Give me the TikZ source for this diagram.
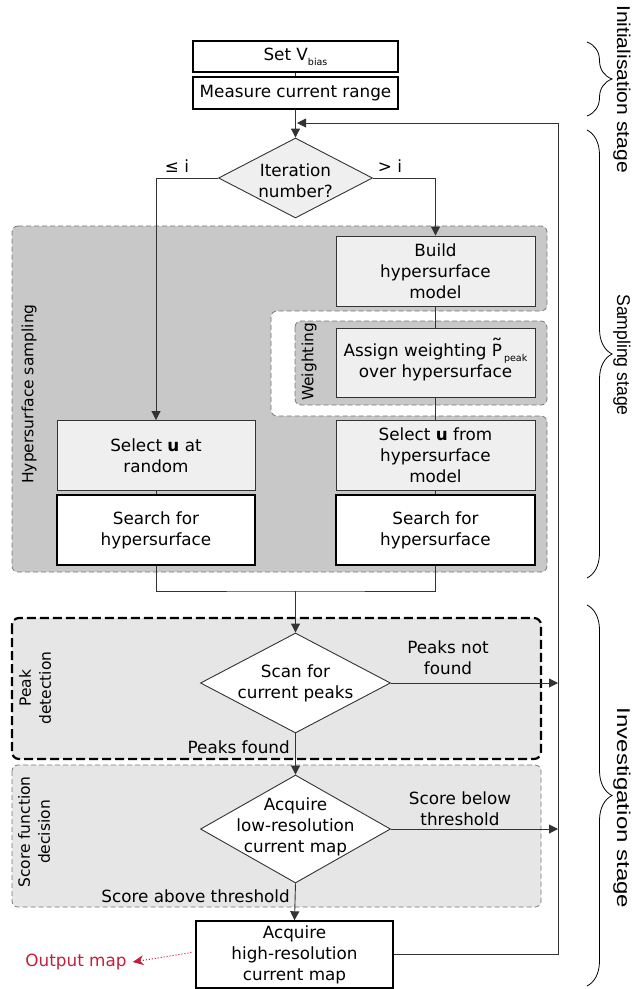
\documentclass[tikz,border=0pt]{standalone}
\usepackage{fontspec}
\setmainfont{DejaVu Sans}
\newfontfamily\arialf{Liberation Sans}
\usepackage{graphicx}
\usetikzlibrary{arrows.meta,shapes.geometric,decorations.pathreplacing}
\definecolor{hgray}{HTML}{C8C8C8}
\definecolor{lboxc}{HTML}{EFEFEF}
\definecolor{rgray}{HTML}{E6E6E6}
\definecolor{dgray}{HTML}{333333}
\definecolor{dashg}{HTML}{777777}
\definecolor{outred}{HTML}{C41E3A}
\newcommand\Ptil{\leavevmode\hbox{\ooalign{P\cr\hidewidth\raisebox{0.22em}{\scalebox{1.4}[1.1]{\char"02DC}}\hidewidth\cr}}}
\newcommand\subsm[1]{\raisebox{-0.3em}{\fontsize{9.5}{9.5}\selectfont #1}}
\begin{document}
\begin{tikzpicture}[x=1pt,y=-1pt,
  font=\fontsize{16.8}{21}\selectfont,
  wbox/.style={draw=black,line width=1.4pt,fill=white,inner sep=0pt,align=center},
  sbox/.style={draw=black,line width=1.7pt,fill=white,inner sep=0pt,align=center,minimum width=199pt,minimum height=70pt},
  gbox/.style={draw=dgray,line width=0.9pt,fill=lboxc,inner sep=0pt,align=center,minimum width=199pt,minimum height=70pt},
  decis/.style={diamond,draw=dgray,line width=0.9pt,inner sep=0pt},
  conn/.style={draw=dgray,line width=0.9pt},
  arr/.style={conn,-{Triangle[length=9pt,width=9pt]}},
  thinreg/.style={draw=dashg,line width=0.8pt,dash pattern=on 5pt off 3pt,rounded corners=6pt},
  thickreg/.style={draw=black,line width=2.2pt,dash pattern=on 9pt off 4pt,rounded corners=7pt},
  reglab/.style={rotate=90,align=center,font=\fontsize{15.5}{20}\selectfont},
  stagelab/.style={rotate=-90,font=\arialf\fontsize{18.5}{18.5}\selectfont},
  stagebrace/.style={draw=black,line width=0.8pt,decorate,decoration={brace,amplitude=25pt}},
  lab/.style={inner sep=0pt,align=center}]
\useasboundingbox (0,0) rectangle (634,989);

% ---------- regions ----------
\path[thinreg,fill=hgray] (12,226) -- (547,226) -- (547,311) -- (271,311) -- (271,416) -- (547,416) -- (547,572) -- (12,572) -- cycle;
\path[thinreg,fill=hgray] (295,321) rectangle (547,405);
\path[thickreg,fill=rgray] (12,618) rectangle (541,759);
\path[thinreg,fill=rgray] (12,765) rectangle (541,907);

\node[reglab] (lhs) at (29,394) {Hypersurface sampling};
\node[reglab] (lw) at (309,362) {Weighting};
\node[reglab] (lpd) at (35,688) {Peak\\detection};
\node[reglab] (lsf) at (34,832) {Score function\\decision};

% ---------- nodes ----------
\node[wbox,minimum width=205pt,minimum height=31pt] (setv) at (295.5,56.5) {Set V\subsm{bias}};
\node[wbox,minimum width=205pt,minimum height=32pt] (meas) at (295.5,93) {Measure current range};

\node[decis,fill=lboxc,minimum width=154pt,minimum height=80pt] (it) at (295.5,178) {};
\node[lab] (itt) at (295.5,181) {Iteration\\number?};

\node[gbox] (bm) at (435.5,271) {Build\\hypersurface\\model};
\node[gbox,minimum height=69pt] (aw) at (435.5,362.5) {Assign weighting \Ptil\kern2pt\subsm{peak}\\over hypersurface};
\node[gbox] (su) at (435.5,455.5) {Select \textbf{u} from\\hypersurface\\model};
\node[sbox] (sh2) at (435.5,530) {Search for\\hypersurface};

\node[gbox,minimum width=198pt] (sr) at (156,455.5) {Select \textbf{u} at\\random};
\node[sbox,minimum width=198pt] (sh1) at (156,530) {Search for\\hypersurface};

\node[decis,fill=white,minimum width=190pt,minimum height=100pt] (sc) at (295.5,683) {};
\node[lab] (sct) at (295.5,683) {Scan for\\current peaks};

\node[decis,fill=white,minimum width=190pt,minimum height=108pt] (al) at (295.5,829) {};
\node[lab] (alt) at (295.5,827) {Acquire\\low-resolution\\current map};

\node[wbox,minimum width=197pt,minimum height=67pt] (hr) at (294.5,954.5) {Acquire\\high-resolution\\current map};

\node[text=outred,inner sep=0pt] (om) at (76,962) {Output map};

% ---------- labels ----------
\node[lab] (le) at (177,166) {≤ i};
\node[lab] (gt) at (390,166) {> i};
\node[lab] (pnf) at (448,657.5) {Peaks not\\found};
\node[lab,anchor=east] (pf) at (290,747) {Peaks found};
\node[lab] (sbt) at (460,808.5) {Score below\\threshold};
\node[lab,anchor=east] (sat) at (290,896) {Score above threshold};

% ---------- connectors ----------
\draw[conn] (setv.south) -- (meas.north);
\draw[arr] (meas.south) -- (it.north);
\draw[arr] (it.west) -| (sr.north);
\draw[arr] (it.east) -| (bm.north);
\draw[conn] (bm.south) -- (aw.north);
\draw[conn] (aw.south) -- (su.north);
\draw[conn] (su.south) -- (sh2.north);
\draw[conn] (sr.south) -- (sh1.north);
\coordinate (join) at (295.5,591);
\draw[conn] (sh1.south) |- (join) -| (sh2.south);
\draw[arr] (join) -- (sc.north);
\draw[arr] (sc.south) -- (al.north);
\draw[arr] (al.south) -- (hr.north);

\coordinate (fbtop) at (558,123);
\coordinate (fbin) at (297,123);
\draw[conn] (hr.east) -| (fbtop);
\draw[arr] (fbtop) -- (fbin);
\draw[arr] (sc.east) -- (sc.east -| fbtop);
\draw[arr] (al.east) -- (al.east -| fbtop);

\draw[outred,line width=1pt,dotted,-{Stealth[length=11pt,width=10pt]}] ([xshift=-4pt,yshift=2pt]hr.west) -- ([xshift=6pt]om.east);

% ---------- stage braces ----------
\draw[stagebrace] (587,42) -- (587,116);
\draw[stagebrace] (587,130) -- (587,578);
\draw[stagebrace] (587,605) -- (587,986);
\node[stagelab] (s1) at (622,89) {\scalebox{1.14}[1]{Initialisation stage}};
\node[stagelab] (s2) at (622,355) {\scalebox{0.95}[1]{Sampling stage}};
\node[stagelab] (s3) at (622,808) {\scalebox{1.3}[1]{Investigation stage}};
\end{tikzpicture}
\end{document}
